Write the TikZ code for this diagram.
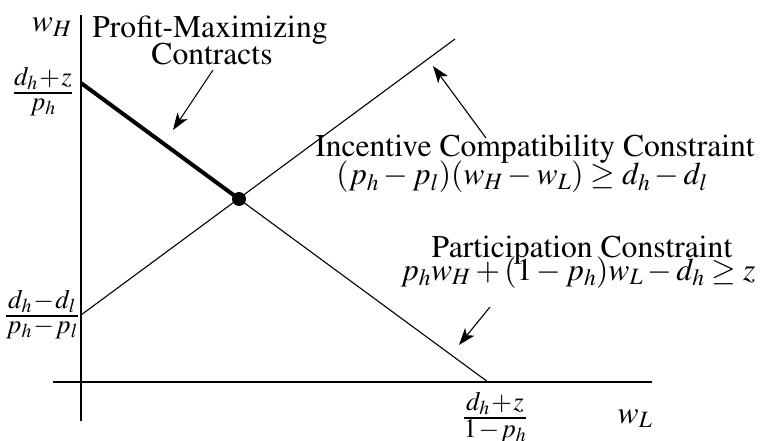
\documentclass[tikz,border=0pt]{standalone}
\usepackage{mathptmx}
\usepackage[T1]{fontenc}
\usetikzlibrary{arrows.meta}
\newcommand{\stk}[2]{{\fontsize{26.6}{23}\selectfont\setlength{\arrayrulewidth}{2.2pt}\renewcommand{\arraystretch}{1}%
  $\begin{array}{@{}c@{}}#1\\\hline #2\end{array}$}}
\newcommand{\tpl}{\mkern1mu{+}\mkern1mu}
\newcommand{\tmi}{\mkern1mu{-}\mkern1mu}
\begin{document}
\begin{tikzpicture}[x=1pt,y=-1pt,
  every node/.style={font=\fontsize{31.6}{34}\selectfont, inner sep=0pt},
  thinline/.style={line width=1.1pt},
  thickline/.style={line width=4pt},
  pointer/.style={line width=1.1pt,-{Stealth[length=17pt,width=12pt,inset=4.5pt]}},
  lbl/.style={anchor=base}]
\useasboundingbox (0,0) rectangle (766,441);
% axes
\coordinate (vtop) at (81,15);
\coordinate (vbot) at (81,421);
\coordinate (hl) at (53,382);
\coordinate (hr) at (652,382);
\draw[thinline] (vtop) -- (vbot);
\draw[thinline] (hl) -- (hr);
% curves
\coordinate (A) at (81,83);
\coordinate (C) at (81,315);
\coordinate (E) at (455,39);
\coordinate (B) at (488,382);
\node[circle,fill=black,minimum size=14pt] (dot) at (239,199) {};
\draw[thinline] (C) -- (E);
\draw[thinline] (dot.center) -- (B);
\draw[thickline] (A) -- (dot.center);
% texts
\node[anchor=base] (wH) at (52,32) {$w_H$};
\node[lbl] (pm) at (210,38) {Profit-Maximizing};
\node[lbl] (ct) at (212,65) {Contracts};
\node (f1) at (43,92) {\stk{d_h\tpl z}{p_h}};
\node (f2) at (42,315) {\stk{d_h\tmi d_l}{p_h\tmi p_l}};
\node (f3) at (495,418) {\stk{d_h\tpl z}{1\tmi p_h}};
\node[lbl] (wL) at (635,423) {$w_L$};
\node[lbl] (ict) at (535,157) {Incentive Compatibility Constraint};
\node[lbl] (ice) at (522,185) {$(p_h-p_l)(w_H-w_L)\geq d_h-d_l$};
\node[lbl] (pct) at (582,257) {Participation Constraint};
\node[lbl] (pce) at (578,280) {$p_hw_H+(1-p_h)w_L-d_h\geq z$};
% pointers
\coordinate (a1s) at (213,70);
\coordinate (a1e) at (173,130);
\coordinate (a2s) at (486,138);
\coordinate (a2e) at (433,66);
\coordinate (a3s) at (490,307);
\coordinate (a3e) at (459,345);
\draw[pointer] (a1s) -- (a1e);
\draw[pointer] (a2s) -- (a2e);
\draw[pointer] (a3s) -- (a3e);
\end{tikzpicture}
\end{document}
